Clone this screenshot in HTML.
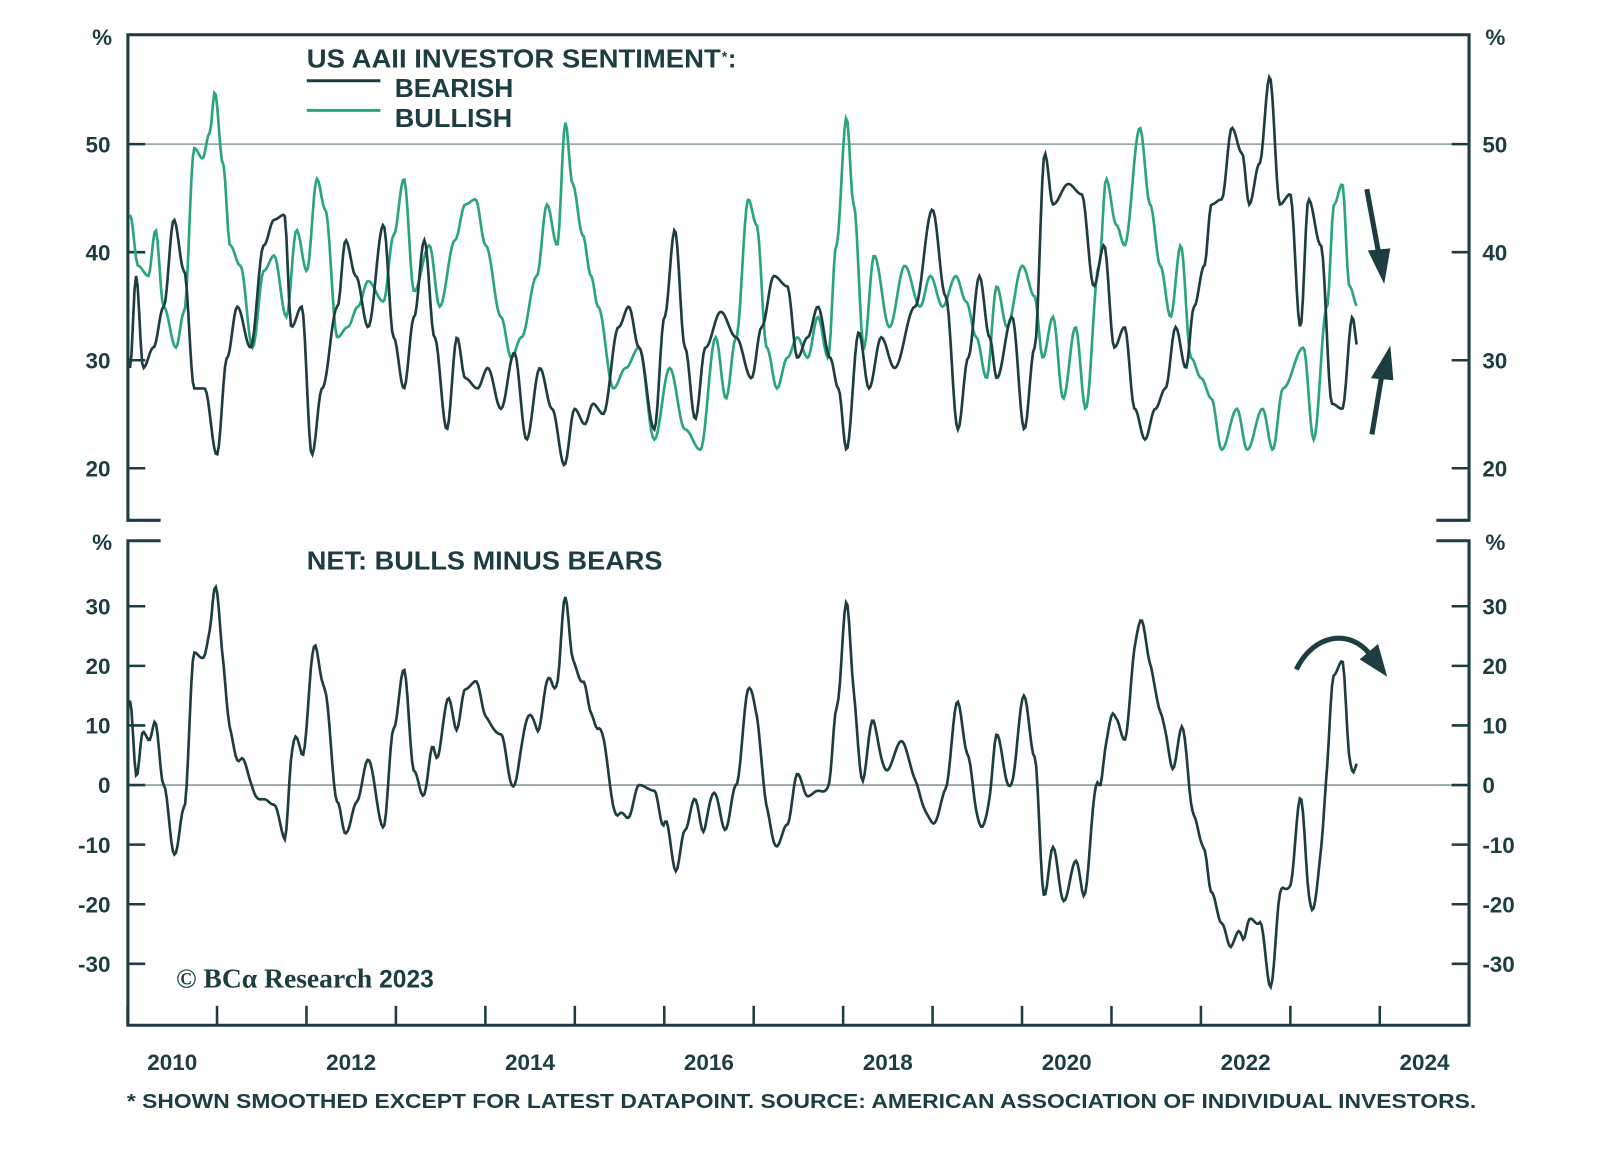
<!DOCTYPE html>
<html><head><meta charset="utf-8"><style>
html,body{margin:0;padding:0;background:#fff;}
svg{display:block;}
text{font-family:"Liberation Sans",sans-serif;fill:#1d3d40;font-weight:bold;}
</style></head><body>
<svg id="s" width="1600" height="1151" viewBox="0 0 1565 1126" xmlns="http://www.w3.org/2000/svg">
<g stroke="#8a9a9a" stroke-width="1.5"><line x1="125" y1="141" x2="1437" y2="141"/><line x1="125" y1="768" x2="1437" y2="768"/></g>
<g stroke="#1d3d40" stroke-width="3" fill="none">
<polyline points="157,509 125,509 125,34 1437,34 1437,509 1405,509"/>
<polyline points="157,529 125,529 125,1003 1437,1003 1437,529 1405,529"/>
</g>
<g id="ticks" stroke="#1d3d40" stroke-width="2.5"></g>
<g id="labels" font-size="22"></g>
<text x="90" y="44" font-size="22" font-weight="normal">%</text>
<text x="1453" y="44" font-size="22" font-weight="normal">%</text>
<text x="90" y="538" font-size="22" font-weight="normal">%</text>
<text x="1453" y="538" font-size="22" font-weight="normal">%</text>
<text x="300" y="66" font-size="25" textLength="405" lengthAdjust="spacingAndGlyphs">US AAII INVESTOR SENTIMENT</text>
<text x="706" y="60" font-size="14">*</text><text x="712" y="66" font-size="25">:</text>
<line x1="300" y1="79" x2="372" y2="79" stroke="#1d3d40" stroke-width="3"/>
<line x1="300" y1="108" x2="372" y2="108" stroke="#2aa57c" stroke-width="3"/>
<text x="386" y="95" font-size="25" textLength="116" lengthAdjust="spacingAndGlyphs">BEARISH</text>
<text x="386" y="124" font-size="25" textLength="115" lengthAdjust="spacingAndGlyphs">BULLISH</text>
<text x="300" y="557" font-size="25" textLength="348" lengthAdjust="spacingAndGlyphs">NET: BULLS MINUS BEARS</text>
<text x="172" y="966" font-size="27" font-weight="normal" style="font-family:'Liberation Serif',serif">© BCα Research <tspan style="font-family:'Liberation Sans',sans-serif;font-weight:bold" font-size="24">2023</tspan></text>
<text x="124" y="1084" font-size="19.5" textLength="1320" lengthAdjust="spacingAndGlyphs">* SHOWN SMOOTHED EXCEPT FOR LATEST DATAPOINT. SOURCE: AMERICAN ASSOCIATION OF INDIVIDUAL INVESTORS.</text>
<path id="bull" fill="none" stroke="#2aa57c" stroke-width="2.6"/>
<path id="bear" fill="none" stroke="#1d3d40" stroke-width="2.6"/>
<path id="net" fill="none" stroke="#1d3d40" stroke-width="2.6"/>
<g fill="#1d3d40" stroke="#1d3d40">
<line x1="1337" y1="185" x2="1349" y2="250" stroke-width="5"/>
<polygon points="1338,245 1360,243 1354,278" stroke="none"/>
<line x1="1342" y1="425" x2="1352" y2="365" stroke-width="5"/>
<polygon points="1341,370 1363,372 1360,338" stroke="none"/>
<path d="M1268,655 C1285,620 1320,615 1340,640" fill="none" stroke-width="5"/>
<polygon points="1330,645 1348,630 1357,662" stroke="none"/>
</g>
</svg>
<script>
const NS="http://www.w3.org/2000/svg";
const bear=[127,360,133,270,140,360,150,340,160,300,170,215,180,265,190,380,200,380,212,445,222,350,232,300,245,340,258,240,268,215,278,210,285,320,295,300,305,445,315,380,330,300,338,235,348,270,360,320,375,220,385,330,395,380,405,310,415,235,425,330,437,420,447,330,455,370,467,380,477,360,490,400,503,345,515,430,528,360,540,400,552,455,562,400,572,415,580,395,590,405,605,320,615,300,625,340,640,420,650,310,660,225,670,340,680,410,690,340,705,305,720,330,735,370,745,320,757,270,770,280,780,350,790,330,800,300,812,350,820,380,828,440,840,325,850,380,862,330,875,360,895,300,912,205,925,290,937,420,947,350,958,270,968,330,975,370,990,310,1002,420,1012,340,1022,150,1030,200,1045,180,1058,190,1070,280,1080,240,1090,340,1100,320,1110,400,1120,430,1130,400,1140,380,1150,320,1160,360,1168,300,1178,260,1185,200,1195,195,1205,125,1215,150,1222,200,1232,160,1242,75,1252,200,1262,190,1272,320,1280,195,1292,240,1303,395,1313,400,1323,310,1328,340];
const bull=[127,210,135,260,145,270,152,225,160,300,172,340,180,305,190,145,198,155,205,130,210,90,218,160,225,240,235,260,247,340,258,265,268,250,280,310,290,225,300,265,310,175,318,205,330,330,340,320,350,300,360,275,375,295,385,230,395,175,405,285,420,240,430,300,445,235,455,200,465,195,475,240,490,310,500,350,510,330,525,270,535,200,545,240,553,120,560,180,570,230,578,270,585,300,600,380,612,360,625,340,640,430,655,360,670,420,685,440,700,330,710,390,720,330,732,195,740,220,750,340,760,380,770,350,780,330,790,350,800,310,810,350,818,240,828,115,835,200,845,340,855,250,870,320,885,260,900,300,910,270,922,300,935,270,945,295,955,330,965,370,975,280,985,320,1000,260,1012,290,1020,350,1030,310,1040,390,1052,320,1062,400,1075,260,1082,175,1092,220,1100,240,1115,125,1125,200,1135,260,1145,310,1155,240,1165,350,1175,370,1185,390,1195,440,1210,400,1220,440,1235,400,1245,440,1255,380,1275,340,1285,430,1298,300,1305,200,1313,180,1320,280,1328,300];
function pts(a){const p=[];for(let i=0;i<a.length;i+=2)p.push([a[i],a[i+1]]);return p;}
function interp(p,x){for(let i=0;i<p.length-1;i++){if(x>=p[i][0]&&x<=p[i+1][0]){const t=(x-p[i][0])/(p[i+1][0]-p[i][0]);const s=(1-Math.cos(Math.PI*t))/2;return p[i][1]+(p[i+1][1]-p[i][1])*s;}}return p[p.length-1][1];}
function path(p){let d="";p.forEach((q,i)=>{d+=(i?"L":"M")+q[0].toFixed(1)+","+q[1].toFixed(1);});return d;}
const B=pts(bear),G=pts(bull);
const bp=[],gp=[],np=[];
for(let x=127;x<=1328;x+=1.5){const yb=interp(B,x),yg=interp(G,x);bp.push([x,yb]);gp.push([x,yg]);
const vb=50-(yb-141)/10.57,vg=50-(yg-141)/10.57;const n=vg-vb;np.push([x,768-n*5.83]);}
document.getElementById("bear").setAttribute("d",path(bp));
document.getElementById("bull").setAttribute("d",path(gp));
document.getElementById("net").setAttribute("d",path(np));
const tk=document.getElementById("ticks"),lb=document.getElementById("labels");
function L(x1,y1,x2,y2){const l=document.createElementNS(NS,"line");l.setAttribute("x1",x1);l.setAttribute("y1",y1);l.setAttribute("x2",x2);l.setAttribute("y2",y2);tk.appendChild(l);}
function T(x,y,s,a){const t=document.createElementNS(NS,"text");t.setAttribute("x",x);t.setAttribute("y",y);t.setAttribute("text-anchor",a);t.textContent=s;lb.appendChild(t);}
[50,40,30,20].forEach(v=>{const y=141+(50-v)*10.57;L(125,y,142,y);L(1420,y,1437,y);T(108,y+8,v,"end");T(1450,y+8,v,"start");});
[30,20,10,0,-10,-20,-30].forEach(v=>{const y=768-v*5.83;L(125,y,142,y);L(1420,y,1437,y);T(108,y+8,v,"end");T(1450,y+8,v,"start");});
for(let k=0;k<=15;k++){const x=124.7+k*87.5;L(x,1003,x,984);if(k%2==0&&k<15)T(x+43.7,1047,2010+k,"middle");}
</script>
</body></html>
